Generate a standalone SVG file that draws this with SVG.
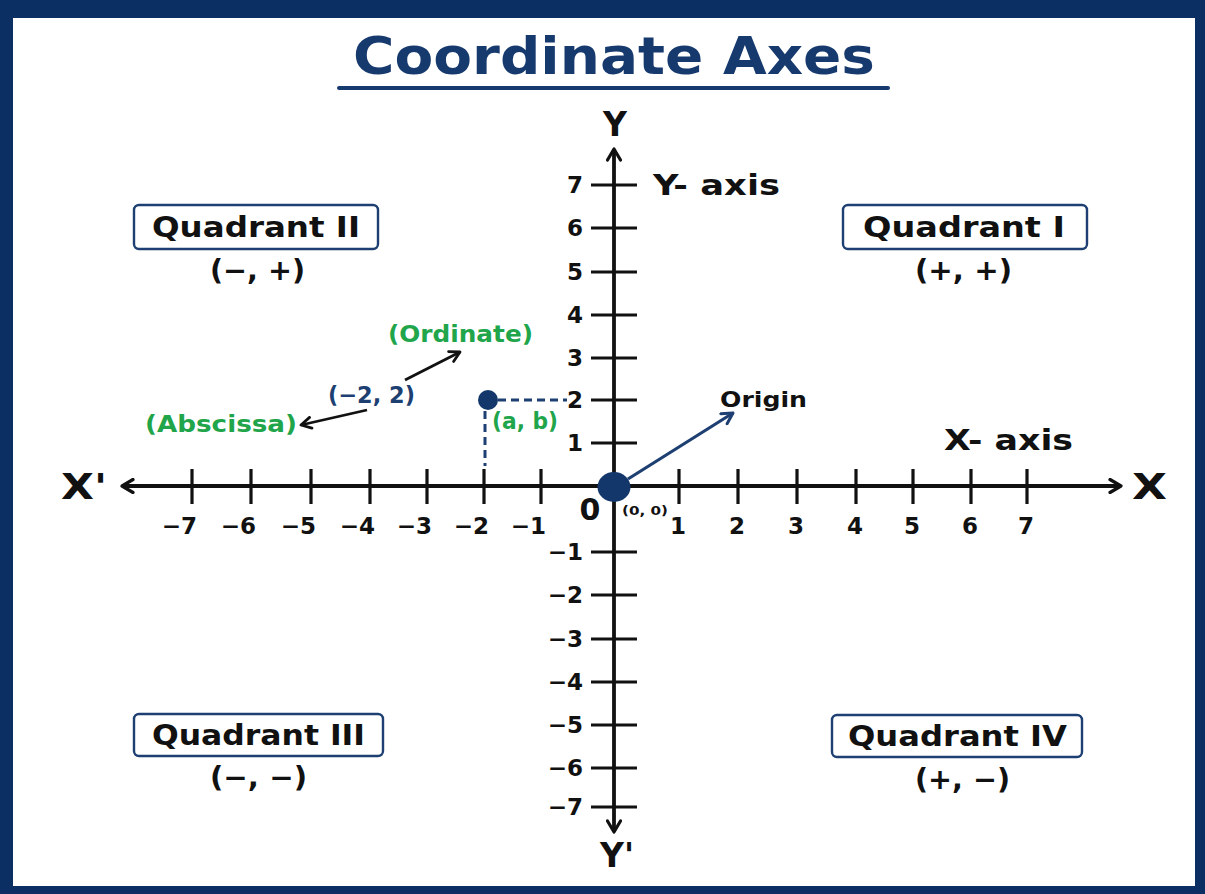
<svg xmlns="http://www.w3.org/2000/svg" width="1205" height="894" viewBox="0 0 1205 894">
<style>
text{font-family:"DejaVu Sans","Liberation Sans",sans-serif;font-weight:bold}
.ax{stroke:#111;stroke-width:3.8;fill:none}
.tk{stroke:#111;stroke-width:3.2;fill:none}
.num{font-size:23px;fill:#111}
.qbox{fill:#fff;stroke:#1d3f72;stroke-width:2.4}
.qt{font-size:28px;fill:#111}
.qs{font-size:28px;fill:#111}
.green{fill:#21a54b;font-size:23px}
.navy{fill:#1d3f72}
.dash{stroke:#1d3f72;stroke-width:3;stroke-dasharray:8 5;fill:none}
</style>
<defs>
<marker id="chev" viewBox="0 0 16 16" refX="14" refY="8" markerWidth="16" markerHeight="16" markerUnits="userSpaceOnUse" orient="auto-start-reverse">
<path d="M3,1.5 L14,8 L3,14.5" fill="none" stroke="#111" stroke-width="3.2" stroke-linecap="round" stroke-linejoin="round"/>
</marker>
<marker id="chevS" viewBox="0 0 14 14" refX="12" refY="7" markerWidth="14" markerHeight="14" markerUnits="userSpaceOnUse" orient="auto">
<path d="M2,1.5 L12,7 L2,12.5" fill="none" stroke="#111" stroke-width="2.8" stroke-linecap="round" stroke-linejoin="round"/>
</marker>
<marker id="chevN" viewBox="0 0 14 14" refX="12" refY="7" markerWidth="15" markerHeight="15" markerUnits="userSpaceOnUse" orient="auto">
<path d="M2,1.5 L12,7 L2,12.5" fill="none" stroke="#1d3f72" stroke-width="2.8" stroke-linecap="round" stroke-linejoin="round"/>
</marker>
</defs>
<rect x="0" y="0" width="1205" height="894" fill="#0c2f63"/>
<rect x="13" y="18" width="1182" height="868" fill="#ffffff"/>

<g id="title">
<text x="614" y="74" font-size="52" fill="#173a6e" text-anchor="middle" textLength="522" lengthAdjust="spacingAndGlyphs">Coordinate Axes</text>
<line x1="339" y1="88" x2="888" y2="88" stroke="#173a6e" stroke-width="4" stroke-linecap="round"/>
</g>

<g id="connectors">
<line class="ax" x1="122" y1="486" x2="1121" y2="486" marker-start="url(#chev)" marker-end="url(#chev)"/>
<line class="ax" x1="614" y1="832" x2="614" y2="149" marker-start="url(#chev)" marker-end="url(#chev)"/>
<line x1="405" y1="380" x2="460" y2="352" stroke="#111" stroke-width="2.8" marker-end="url(#chevS)"/>
<line x1="367" y1="410" x2="301" y2="425" stroke="#111" stroke-width="2.8" marker-end="url(#chevS)"/>
<line x1="628" y1="479" x2="733" y2="413" stroke="#1d3f72" stroke-width="3.2" marker-end="url(#chevN)"/>
<line class="dash" x1="498" y1="400" x2="567" y2="400"/>
<line class="dash" x1="485" y1="411" x2="485" y2="466"/>
</g>

<g id="x-ticks">
<path class="tk" d="M192,469V504 M251,469V504 M311,469V504 M370,469V504 M427,469V504 M484,469V504 M541,469V504 M679,469V504 M738,469V504 M797,469V504 M856,469V504 M913,469V504 M971,469V504 M1027,469V504"/>
<g class="num">
<text x="197" y="534" text-anchor="end">−7</text>
<text x="256" y="534" text-anchor="end">−6</text>
<text x="316" y="534" text-anchor="end">−5</text>
<text x="375" y="534" text-anchor="end">−4</text>
<text x="432" y="534" text-anchor="end">−3</text>
<text x="489" y="534" text-anchor="end">−2</text>
<text x="546" y="534" text-anchor="end">−1</text>
<text x="678" y="534" text-anchor="middle">1</text>
<text x="737" y="534" text-anchor="middle">2</text>
<text x="796" y="534" text-anchor="middle">3</text>
<text x="855" y="534" text-anchor="middle">4</text>
<text x="912" y="534" text-anchor="middle">5</text>
<text x="970" y="534" text-anchor="middle">6</text>
<text x="1026" y="534" text-anchor="middle">7</text>
</g>
</g>

<g id="y-ticks">
<path class="tk" d="M591,185H637 M591,228H637 M591,272H637 M591,315H637 M591,358H637 M591,400H637 M591,443H637 M591,552H637 M591,595H637 M591,639H637 M591,682H637 M591,725H637 M591,768H637 M591,807H637"/>
<g class="num" text-anchor="end">
<text x="583" y="193">7</text>
<text x="583" y="236">6</text>
<text x="583" y="280">5</text>
<text x="583" y="323">4</text>
<text x="583" y="366">3</text>
<text x="583" y="408">2</text>
<text x="583" y="451">1</text>
<text x="583" y="560">−1</text>
<text x="583" y="603">−2</text>
<text x="583" y="647">−3</text>
<text x="583" y="690">−4</text>
<text x="583" y="733">−5</text>
<text x="583" y="776">−6</text>
<text x="583" y="815">−7</text>
</g>
</g>

<g id="axis-labels">
<text x="615" y="136" font-size="33" fill="#111" text-anchor="middle">Y</text>
<text x="617" y="867" font-size="33" fill="#111" text-anchor="middle">Y'</text>
<text x="61" y="499" font-size="36" fill="#111" textLength="46" lengthAdjust="spacingAndGlyphs">X'</text>
<text x="1132" y="499" font-size="36" fill="#111" textLength="35" lengthAdjust="spacingAndGlyphs">X</text>
<text x="653" y="195" font-size="29" fill="#111" textLength="127" lengthAdjust="spacingAndGlyphs">Y- axis</text>
<text x="944" y="450" font-size="29" fill="#111" textLength="129" lengthAdjust="spacingAndGlyphs">X- axis</text>
</g>

<g id="quadrant-1">
<rect class="qbox" x="843" y="205" width="244" height="44" rx="5"/>
<text class="qt" x="863" y="237" textLength="202" lengthAdjust="spacingAndGlyphs">Quadrant I</text>
<text class="qs" x="915" y="280" textLength="97" lengthAdjust="spacingAndGlyphs">(+, +)</text>
</g>
<g id="quadrant-2">
<rect class="qbox" x="134" y="205" width="244" height="44" rx="5"/>
<text class="qt" x="152" y="237" textLength="208" lengthAdjust="spacingAndGlyphs">Quadrant II</text>
<text class="qs" x="210" y="280" textLength="95" lengthAdjust="spacingAndGlyphs">(−, +)</text>
</g>
<g id="quadrant-3">
<rect class="qbox" x="134" y="714" width="249" height="42" rx="5"/>
<text class="qt" x="152" y="745" textLength="213" lengthAdjust="spacingAndGlyphs">Quadrant III</text>
<text class="qs" x="210" y="787" textLength="97" lengthAdjust="spacingAndGlyphs">(−, −)</text>
</g>
<g id="quadrant-4">
<rect class="qbox" x="832" y="715" width="250" height="42" rx="5"/>
<text class="qt" x="848" y="746" textLength="219" lengthAdjust="spacingAndGlyphs">Quadrant IV</text>
<text class="qs" x="915" y="789" textLength="95" lengthAdjust="spacingAndGlyphs">(+, −)</text>
</g>

<g id="point">
<circle cx="488" cy="400" r="10" fill="#13376b"/>
<text class="green" x="492" y="429" textLength="66" lengthAdjust="spacingAndGlyphs">(a, b)</text>
<text class="navy" x="328" y="403" font-size="23" textLength="87" lengthAdjust="spacingAndGlyphs">(−2, 2)</text>
<text class="green" x="388" y="342" textLength="145" lengthAdjust="spacingAndGlyphs">(Ordinate)</text>
<text class="green" x="145" y="432" textLength="152" lengthAdjust="spacingAndGlyphs">(Abscissa)</text>
</g>

<g id="origin">
<ellipse cx="614" cy="487" rx="16.5" ry="15" fill="#13376b"/>
<text x="590" y="520" font-size="30" fill="#111" text-anchor="middle">0</text>
<text x="622" y="515" font-size="12.5" fill="#111" textLength="46" lengthAdjust="spacingAndGlyphs">(0, 0)</text>
<text x="720" y="407" font-size="21" fill="#111" textLength="87" lengthAdjust="spacingAndGlyphs">Origin</text>
</g>
</svg>
